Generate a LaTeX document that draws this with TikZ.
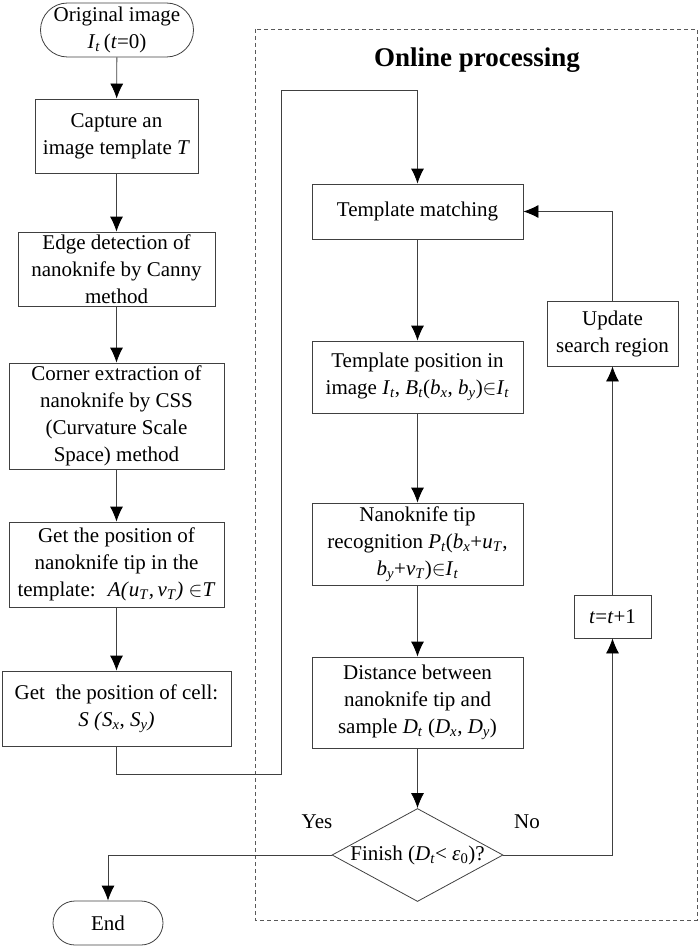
\documentclass[tikz,border=0pt]{standalone}
\usepackage{fontspec}
\setmainfont{Liberation Serif}
\usetikzlibrary{arrows.meta,shapes.geometric}
\newcommand{\vi}[1]{\textit{#1}}
\newcommand{\ind}[2]{\textit{#1}\textsubscript{\textit{#2}}}
\begin{document}
\begin{tikzpicture}[x=1pt,y=-1pt,every node/.style={font=\fontsize{21}{27}\selectfont}]
% Styles
\tikzstyle{trait}=[draw=black!75,line width=0.8pt]
\tikzstyle{fleche}=[trait,-{Latex[length=15pt,width=13pt,black]}]
\tikzstyle{boite}=[trait,rectangle,align=center,inner sep=0pt]
\tikzstyle{losange}=[trait,diamond,inner sep=0pt]
\tikzstyle{cadre}=[draw=black!65,line width=0.8pt,dash pattern=on 4pt off 3pt]
% Dimensions
\def\ColGauche{116.5}
\def\ColDroite{417.5}
\def\ColRetour{612.5}
\def\LargeurDroite{211pt}
% Cadre
\useasboundingbox (0,0) rectangle (700,947);
\draw[cadre] (255,29) rectangle (697,920);
\node[font=\fontsize{27}{32}\selectfont\bfseries] (titre) at (477,60) {Online processing};
% Noeuds colonne gauche
\node[boite,rounded corners=27pt,minimum width=153pt,minimum height=54pt] (depart) at (117,30) {Original image\\\ind{I}{t}\,(\vi{t}=0)};
\node[boite,minimum width=163pt,minimum height=74pt] (capture) at (\ColGauche,136) {Capture an\\image template \vi{T}};
\node[boite,minimum width=197pt,minimum height=74pt] (contour) at (\ColGauche,269) {Edge detection of\\nanoknife by Canny\\method};
\node[boite,minimum width=215pt,minimum height=106pt] (coin) at (\ColGauche,416) {Corner extraction of\\nanoknife by CSS\\(Curvature Scale\\Space) method};
\node[boite,minimum width=215pt,minimum height=85pt] (pointe) at (\ColGauche,564.5) {Get the position of\\nanoknife tip in the\\template: \ \vi{A(}\ind{u}{T}\vi{,}\,\ind{v}{T}\vi{)} $\in$\vi{T}};
\node[boite,minimum width=229pt,minimum height=75pt] (cellule) at (\ColGauche,708.5) {Get \ the position of cell:\\\vi{S} \vi{(}\ind{S}{x}, \ind{S}{y}\vi{)}};
\node[boite,rounded corners=22pt,minimum width=110pt,minimum height=44pt] (fin) at (108,923) {End};
% Noeuds colonne droite
\node[boite,minimum width=\LargeurDroite,minimum height=55pt] (appariement) at (\ColDroite,211.5) {Template matching};
\node[boite,minimum width=\LargeurDroite,minimum height=72pt] (position) at (\ColDroite,377) {Template position in\\image \ind{I}{t}, \ind{B}{t}(\ind{b}{x}, \ind{b}{y})$\in$\ind{I}{t}};
\node[boite,minimum width=\LargeurDroite,minimum height=82pt] (reconnaissance) at (\ColDroite,544) {Nanoknife tip\\recognition \ind{P}{t}(\ind{b}{x}+\ind{u}{T},\\\ind{b}{y}+\ind{v}{T})$\in$\ind{I}{t}};
\node[boite,minimum width=\LargeurDroite,minimum height=91pt] (distance) at (\ColDroite,702.5) {Distance between\\nanoknife tip and\\sample \ind{D}{t} (\ind{D}{x}, \ind{D}{y})};
\node[losange,minimum width=171pt,minimum height=93pt,label=center:{Finish (\ind{D}{t}< \vi{ε}\textsubscript{0})?}] (test) at (\ColDroite,855) {};
\node[boite,minimum width=131pt,minimum height=65pt] (maj) at (\ColRetour,333.5) {Update\\search region};
\node[boite,minimum width=77pt,minimum height=43pt] (increment) at (\ColRetour,616.5) {\vi{t}=\vi{t}+1};
\node (oui) at (317,822) {Yes};
\node (non) at (527,822) {No};
% Coudes
\coordinate (coudeA) at (281,774);
\coordinate (coudeB) at (281,90);
% Arcs
\draw[fleche] (depart)--(capture);
\draw[fleche] (capture)--(contour);
\draw[fleche] (contour)--(coin);
\draw[fleche] (coin)--(pointe);
\draw[fleche] (pointe)--(cellule);
\draw[fleche] (cellule.south) |- (coudeA) -- (coudeB) -| (appariement.north);
\draw[fleche] (appariement)--(position);
\draw[fleche] (position)--(reconnaissance);
\draw[fleche] (reconnaissance)--(distance);
\draw[fleche] (distance)--(test);
\draw[fleche] (test.east) -| (increment.south);
\draw[fleche] (increment)--(maj);
\draw[fleche] (maj.north) |- (appariement.east);
\draw[fleche] (test.west) -| (fin.north);
\end{tikzpicture}
\end{document}
